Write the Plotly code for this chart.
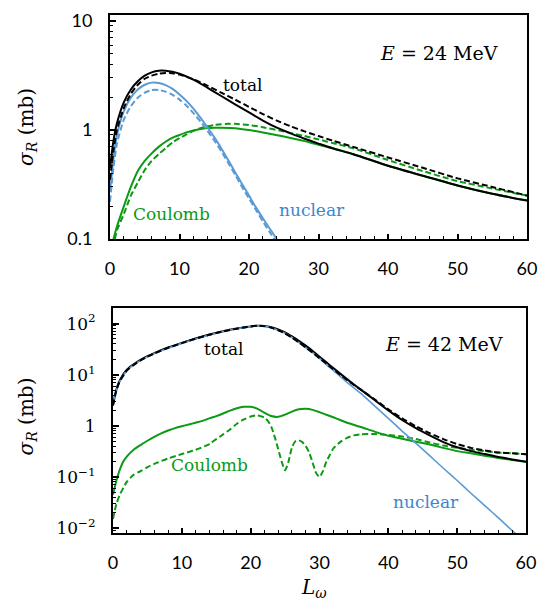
import plotly.graph_objects as go
from plotly.subplots import make_subplots

# ---- E = 24 MeV (top panel) ----
L_tot24 = [0, 0.5, 1, 2, 3, 4, 5, 6, 7, 8, 9, 10, 12, 14, 16, 18, 20, 22, 24, 26, 28, 30, 32, 35, 40, 45, 50, 55, 60]
tot24 = [0.45, 0.8, 1.15, 1.8, 2.35, 2.8, 3.15, 3.38, 3.5, 3.5, 3.42, 3.28, 2.9, 2.45, 2.05, 1.72, 1.45, 1.22, 1.05,
         0.93, 0.83, 0.75, 0.68, 0.6, 0.47, 0.38, 0.31, 0.26, 0.225]
tot24_d = [0.35, 0.65, 1.0, 1.6, 2.15, 2.6, 2.95, 3.15, 3.28, 3.33, 3.32, 3.22, 2.92, 2.55, 2.2, 1.9, 1.63, 1.4, 1.22,
           1.08, 0.97, 0.88, 0.8, 0.7, 0.56, 0.45, 0.36, 0.3, 0.25]

L_nuc24 = [0, 0.5, 1, 2, 3, 4, 5, 6, 7, 8, 9, 10, 11, 12, 13, 14, 15, 16, 17, 18, 19, 20, 21, 22, 23, 24]
nuc24 = [0.27, 0.55, 0.9, 1.5, 1.98, 2.35, 2.6, 2.72, 2.7, 2.58, 2.38, 2.12, 1.85, 1.57, 1.3, 1.06, 0.86, 0.68,
         0.53, 0.41, 0.32, 0.25, 0.195, 0.155, 0.124, 0.1]
nuc24_d = [0.22, 0.45, 0.75, 1.25, 1.65, 1.98, 2.2, 2.32, 2.33, 2.25, 2.1, 1.9, 1.67, 1.43, 1.2, 0.99, 0.8, 0.64,
           0.5, 0.39, 0.3, 0.235, 0.185, 0.145, 0.115, 0.092]

L_coul24 = [0.5, 1, 2, 3, 4, 5, 6, 7, 8, 9, 10, 11, 12, 13, 14, 15, 16, 18, 20, 22, 25, 28, 30, 32, 35, 40, 45, 50, 55, 60]
coul24 = [0.1, 0.13, 0.2, 0.3, 0.42, 0.52, 0.61, 0.7, 0.78, 0.85, 0.9, 0.95, 0.99, 1.02, 1.04, 1.05, 1.05, 1.04,
          1.0, 0.95, 0.87, 0.79, 0.73, 0.68, 0.6, 0.47, 0.38, 0.31, 0.26, 0.225]
L_coul24_d = [0.7, 1, 2, 3, 4, 5, 6, 7, 8, 9, 10, 11, 12, 13, 14, 15, 16, 17, 18, 20, 22, 25, 28, 30, 32, 35, 40, 45,
              50, 55, 60]
coul24_d = [0.1, 0.12, 0.17, 0.25, 0.33, 0.43, 0.52, 0.6, 0.68, 0.77, 0.84, 0.91, 0.98, 1.04, 1.08, 1.11, 1.13,
            1.14, 1.14, 1.11, 1.06, 0.97, 0.88, 0.82, 0.76, 0.68, 0.53, 0.42, 0.34, 0.29, 0.25]

# ---- E = 42 MeV (bottom panel) ----
L_42 = [0, 0.5, 1, 2, 3, 4, 5, 6, 8, 10, 12, 14, 16, 18, 20, 21, 22, 23, 24, 25, 26, 27, 28, 29, 30, 31, 32, 33,
        34, 35, 36, 38, 40, 42, 44, 46, 48, 50, 52, 54, 56, 58, 60]
tot42 = [2.6, 5.2, 7.8, 12.5, 16, 19.5, 23, 26.5, 34, 42, 51, 61, 71, 80, 88, 91, 90, 85, 77, 67, 56, 46, 37, 29,
         22.5, 17.5, 13.5, 10.5, 8.2, 6.4, 5.1, 3.2, 2.0, 1.3, 0.9, 0.65, 0.48, 0.38, 0.32, 0.28, 0.245, 0.22, 0.197]
tot42_d = [2.5, 5, 7.5, 12, 15.5, 19, 22.5, 26, 33.5, 41.5, 50.5, 60.5, 70.5, 79.5, 88, 91, 89, 83, 74, 64, 53, 43,
           34, 27, 21, 16.5, 12.8, 10, 7.9, 6.3, 5.1, 3.3, 2.1, 1.4, 0.98, 0.72, 0.55, 0.44, 0.37, 0.33, 0.3, 0.29,
           0.278]

L_nuc42 = [0, 0.5, 1, 2, 3, 4, 5, 6, 8, 10, 12, 14, 16, 18, 20, 21, 22, 23, 24, 25, 26, 27, 28, 29, 30, 31, 32, 33,
           34, 35, 36, 38, 40, 42, 44, 46, 48, 50, 52, 54, 56, 58, 59]
nuc42 = [2.5, 5, 7.5, 12, 15.5, 19, 22.5, 26, 33, 41, 50, 60, 70, 79, 87, 90, 89, 83, 74, 64.5, 53.7, 42.7, 33.9,
         26.9, 20.9, 15.8, 12.2, 9.3, 7.1, 5.5, 4.3, 2.45, 1.4, 0.79, 0.457, 0.26, 0.148, 0.085, 0.048, 0.0275,
         0.0158, 0.0089, 0.0068]

L_coul42 = [0, 0.5, 1, 1.5, 2, 3, 4, 5, 6, 7, 8, 9, 10, 11, 12, 13, 14, 15, 16, 17, 18, 19, 20, 21, 22, 23, 24, 25,
            26, 27, 28, 29, 30, 31, 32, 33, 34, 36, 38, 40, 42, 44, 46, 48, 50, 52, 54, 56, 58, 60]
coul42 = [0.045, 0.085, 0.14, 0.2, 0.25, 0.34, 0.42, 0.51, 0.61, 0.71, 0.81, 0.9, 0.98, 1.06, 1.15, 1.25, 1.4, 1.55,
          1.74, 1.98, 2.2, 2.35, 2.35, 2.15, 1.8, 1.55, 1.5, 1.65, 1.9, 2.1, 2.15, 2.05, 1.85, 1.65, 1.47, 1.3, 1.15,
          0.95, 0.77, 0.64, 0.56, 0.49, 0.43, 0.37, 0.32, 0.29, 0.26, 0.235, 0.215, 0.197]

L_coul42_d = [0, 0.5, 1, 2, 3, 4, 5, 6, 8, 10, 12, 14, 15, 16, 17, 18, 19, 20, 21, 22, 22.5, 23, 23.5, 24, 24.5, 25,
              25.5, 26, 26.5, 27, 27.5, 28, 28.5, 29, 29.5, 30, 30.5, 31, 31.5, 32, 33, 34, 35, 36, 38, 40, 42, 44,
              46, 48, 50, 52, 54, 56, 58, 60]
coul42_d = [0.015, 0.03, 0.045, 0.08, 0.11, 0.13, 0.155, 0.18, 0.23, 0.28, 0.34, 0.44, 0.55, 0.68, 0.85, 1.1, 1.33,
            1.52, 1.6, 1.45, 1.25, 0.95, 0.6, 0.35, 0.2, 0.135, 0.2, 0.38, 0.5, 0.52, 0.48, 0.4, 0.3, 0.19, 0.12,
            0.1, 0.13, 0.2, 0.27, 0.36, 0.48, 0.58, 0.65, 0.68, 0.69, 0.66, 0.62, 0.55, 0.47, 0.41, 0.37, 0.34,
            0.32, 0.3, 0.29, 0.278]

BLACK = "black"
BLUE = "#5b9bd5"
BLUE_TXT = "#3b87cc"
GREEN = "#0a9a14"
DASH = "6px,3px"
SERIF = "DejaVu Serif"
SANS = "Lato"

fig = make_subplots(rows=2, cols=1)


def line(x, y, color, row, dash=None, width=2):
    fig.add_trace(go.Scatter(x=x, y=y, mode="lines", showlegend=False, hoverinfo="skip",
                             line=dict(color=color, width=width, dash=dash, shape="spline", smoothing=0.6)),
                  row=row, col=1)


# top panel
line(L_coul24, coul24, GREEN, 1)
line(L_coul24_d, coul24_d, GREEN, 1, DASH)
line(L_nuc24, nuc24, BLUE, 1)
line(L_nuc24, nuc24_d, BLUE, 1, DASH)
line(L_tot24, tot24, BLACK, 1)
line(L_tot24, tot24_d, BLACK, 1, DASH)

# bottom panel
line(L_coul42, coul42, GREEN, 2)
line(L_coul42_d, coul42_d, GREEN, 2, DASH)
line(L_42, tot42, BLACK, 2)
line(L_nuc42, nuc42, BLUE, 2, width=1.6)
line(L_42, tot42_d, BLACK, 2, DASH)

xcommon = dict(range=[0, 60], dtick=10, ticks="inside", ticklen=5, tickwidth=1.5, tickcolor="black",
               minor=dict(dtick=2, ticks="inside", ticklen=3, tickwidth=1, tickcolor="black"),
               showline=True, linecolor="black", linewidth=2, mirror=True, showgrid=False, zeroline=False,
               tickfont=dict(family=SANS, size=18, color="black"), ticklabelstandoff=12, automargin=False)
ycommon = dict(type="log", dtick=1, ticks="inside", ticklen=6, tickwidth=1.5, tickcolor="black",
               minor=dict(dtick="D1", ticks="inside", ticklen=3, tickwidth=1, tickcolor="black"),
               showline=True, linecolor="black", linewidth=2, mirror=True, showgrid=False, zeroline=False,
               ticklabelstandoff=12, automargin=False)

fig.update_xaxes(xcommon)
fig.update_yaxes(ycommon)
fig.update_xaxes(domain=[0, 1], row=1, col=1)
fig.update_xaxes(domain=[0.0072, 0.9976], row=2, col=1)
fig.update_yaxes(domain=[0.5676, 1], range=[-1, 1.055], tickvals=[0.1, 1, 10], ticktext=["0.1", "1", "10"],
                 tickfont=dict(family=SANS, size=18, color="black"), row=1, col=1)
fig.update_yaxes(domain=[0, 0.434], range=[-2.097, 2.301], tickvals=[0.01, 0.1, 1, 10, 100],
                 ticktext=["10<sup>\u22122</sup>", "10<sup>\u22121</sup>", "1", "10<sup>1</sup>", "10<sup>2</sup>"],
                 tickfont=dict(family=SERIF, size=17, color="black"), row=2, col=1)

labels = [
    ("x", "y", 47.3, 0.706, "<i>E</i> = 24 MeV", BLACK, 19),
    ("x", "y", 19.1, 0.413, "total", BLACK, 17),
    ("x", "y", 8.9, -0.77, "Coulomb", GREEN, 17),
    ("x", "y", 29.1, -0.734, "nuclear", BLUE_TXT, 17),
    ("x2", "y2", 48.1, 1.61, "<i>E</i> = 42 MeV", BLACK, 19),
    ("x2", "y2", 16.0, 1.51, "total", BLACK, 17),
    ("x2", "y2", 14.0, -0.77, "Coulomb", GREEN, 17),
    ("x2", "y2", 45.5, -1.49, "nuclear", BLUE_TXT, 17),
]
for xr, yr, x, y, txt, col, size in labels:
    fig.add_annotation(xref=xr, yref=yr, x=x, y=y, text=txt, showarrow=False,
                       font=dict(family=SERIF, size=size, color=col))

ytitle = "<i>\u03c3</i><sub><i>R</i></sub> (mb)"
for yc in [0.784, 0.225]:
    fig.add_annotation(xref="paper", yref="paper", x=-0.199, y=yc, text=ytitle, textangle=-90,
                       xanchor="center", yanchor="middle", showarrow=False,
                       font=dict(family=SERIF, size=20, color="black"))
fig.add_annotation(xref="paper", yref="paper", x=0.489, y=-0.106, text="<i>L</i><sub><i>\u03c9</i></sub>",
                   xanchor="center", yanchor="middle", showarrow=False,
                   font=dict(family=SERIF, size=20, color="black"))

fig.update_layout(width=540, height=603, margin=dict(l=110, r=13, t=15, b=70),
                  plot_bgcolor="white", paper_bgcolor="white", hovermode=False)

# drop the default 8px page margin so the figure fills the window exactly
fig.write_html("out.html", config={"displayModeBar": False},
               post_script="document.body.style.margin='0px';")
